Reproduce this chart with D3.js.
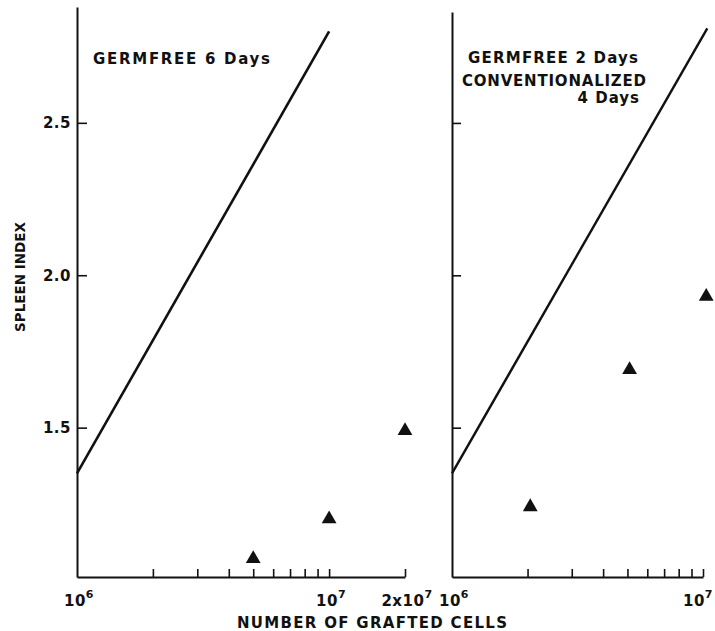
<!DOCTYPE html>
<html><head><meta charset="utf-8">
<script src="https://cdn.jsdelivr.net/npm/d3@7"></script>
<style>
body{margin:0;background:#fff}
text{font-family:"DejaVu Sans","Liberation Sans",sans-serif;fill:#111;font-weight:bold}
</style>
</head><body><svg id="c" width="715" height="631"></svg>
<script>
// ---- data ----
const yTicks = [1.5, 2.0, 2.5];
const yTickLabels = ["1.5", "2.0", "2.5"];
const leftMinorTicks = [2e6, 3e6, 4e6, 5e6, 6e6, 7e6, 8e6, 9e6, 1e7, 2e7];
const rightMinorTicks = [2e6, 3e6, 4e6, 5e6, 6e6, 7e6, 8e6, 9e6, 1e7];
const leftXLabelValues = [1e6, 1e7, 2e7];
const leftXLabelBase = ["10", "10", "2x10"];
const leftXLabelSup = ["6", "7", "7"];
const rightXLabelValues = [1e6, 1e7];
const rightXLabelBase = ["10", "10"];
const rightXLabelSup = ["6", "7"];
const lineLeftX = [1e6, 1e7];
const lineLeftY = [1.35, 2.80];
const lineRightX = [1e6, 1.04e7];
const lineRightY = [1.35, 2.81];
const pointsLeftX = [5e6, 1e7, 2e7];
const pointsLeftY = [1.07, 1.20, 1.49];
const pointsRightX = [2.05e6, 5.1e6, 1.03e7];
const pointsRightY = [1.24, 1.69, 1.93];
const titleLeft = ["GERMFREE  6 Days"];
const titleRight = ["GERMFREE  2 Days", "CONVENTIONALIZED", "4 Days"];
const yLabel = "SPLEEN INDEX";
const xLabel = "NUMBER OF  GRAFTED  CELLS";

// ---- layout ----
const svg = d3.select("#c");
const bottom = 577;
const yL = d3.scaleLinear().domain([1.01, 2.88]).range([bottom, 7]);
const yR = d3.scaleLinear().domain([1.01, 2.864]).range([bottom, 12]);
const xL = d3.scaleLog().domain([1e6, 2e7]).range([77, 405]);
const xR = d3.scaleLog().domain([1e6, 1e7]).range([452, 703]);

function styleAxis(g){
  g.select(".domain").attr("stroke","#111").attr("stroke-width",2);
  g.selectAll(".tick line").attr("stroke","#111").attr("stroke-width",1.6);
}

// left y axis
svg.append("g").attr("transform",`translate(${xL.range()[0]},0)`)
  .call(d3.axisLeft(yL).tickValues(yTicks).tickSize(-10).tickSizeOuter(0).tickPadding(6)
    .tickFormat((d,i)=>yTickLabels[i]))
  .call(styleAxis)
  .call(g=>g.selectAll(".tick text").attr("font-size",15).attr("letter-spacing","0.5px")
    .attr("fill","#111").attr("font-family","DejaVu Sans").attr("font-weight","bold"));

// right y axis
svg.append("g").attr("transform",`translate(${xR.range()[0]},0)`)
  .call(d3.axisLeft(yR).tickValues(yTicks).tickSize(-9).tickSizeOuter(0).tickFormat(""))
  .call(styleAxis);

// x axes
svg.append("g").attr("transform",`translate(0,${bottom})`)
  .call(d3.axisBottom(xL).tickValues(leftMinorTicks).tickSize(-8).tickSizeOuter(0).tickFormat(""))
  .call(styleAxis);
svg.append("g").attr("transform",`translate(0,${bottom})`)
  .call(d3.axisBottom(xR).tickValues(rightMinorTicks).tickSize(-8).tickSizeOuter(0).tickFormat(""))
  .call(styleAxis);

function xLabels(vals, base, sup, x, lastEnd){
  vals.forEach((v,i)=>{
    const isEdge = lastEnd && i === vals.length-1;
    const t = svg.append("text").attr("x", isEdge ? 713 : x(v)+2).attr("y", 606)
      .attr("text-anchor", isEdge ? "end" : "middle").attr("font-size",15).attr("letter-spacing","0.5px");
    t.append("tspan").text(base[i]);
    t.append("tspan").attr("dy",-8).attr("font-size",11).text(sup[i]);
  });
}
xLabels(leftXLabelValues, leftXLabelBase, leftXLabelSup, xL, false);
xLabels(rightXLabelValues, rightXLabelBase, rightXLabelSup, xR, true);

// lines
const lineGen = (x,y)=>d3.line().x(d=>x(d[0])).y(d=>y(d[1]));
svg.append("path").datum(lineLeftX.map((v,i)=>[v,lineLeftY[i]]))
  .attr("d", lineGen(xL,yL)).attr("fill","none").attr("stroke","#111").attr("stroke-width",2.6);
svg.append("path").datum(lineRightX.map((v,i)=>[v,lineRightY[i]]))
  .attr("d", lineGen(xR,yL)).attr("fill","none").attr("stroke","#111").attr("stroke-width",2.4);

// triangles
const tri = d3.symbol(d3.symbolTriangle, 95);
svg.selectAll(".pl").data(pointsLeftX.map((v,i)=>[v,pointsLeftY[i]])).join("path")
  .attr("d", tri).attr("fill","#111")
  .attr("transform", d=>`translate(${xL(d[0])},${yL(d[1])})`);
svg.selectAll(".pr").data(pointsRightX.map((v,i)=>[v,pointsRightY[i]])).join("path")
  .attr("d", tri).attr("fill","#111")
  .attr("transform", d=>`translate(${xR(d[0])},${yL(d[1])})`);

// titles
svg.append("text").attr("x",93).attr("y",64).attr("font-size",15)
  .attr("textLength",177).attr("lengthAdjust","spacing").text(titleLeft[0]);
svg.append("text").attr("x",468).attr("y",63).attr("font-size",15)
  .attr("textLength",170).attr("lengthAdjust","spacing").text(titleRight[0]);
svg.append("text").attr("x",462).attr("y",86).attr("font-size",15)
  .attr("textLength",184).attr("lengthAdjust","spacing").text(titleRight[1]);
svg.append("text").attr("x",640).attr("y",103).attr("font-size",15).attr("text-anchor","end")
  .attr("letter-spacing","1px").text(titleRight[2]);

// axis labels
svg.append("text").attr("transform","translate(25,332) rotate(-90)")
  .attr("font-size",14).attr("textLength",110).attr("lengthAdjust","spacingAndGlyphs").text(yLabel);
svg.append("text").attr("x",237).attr("y",628).attr("font-size",15)
  .attr("textLength",270).attr("lengthAdjust","spacing").text(xLabel);
</script>
</body></html>
